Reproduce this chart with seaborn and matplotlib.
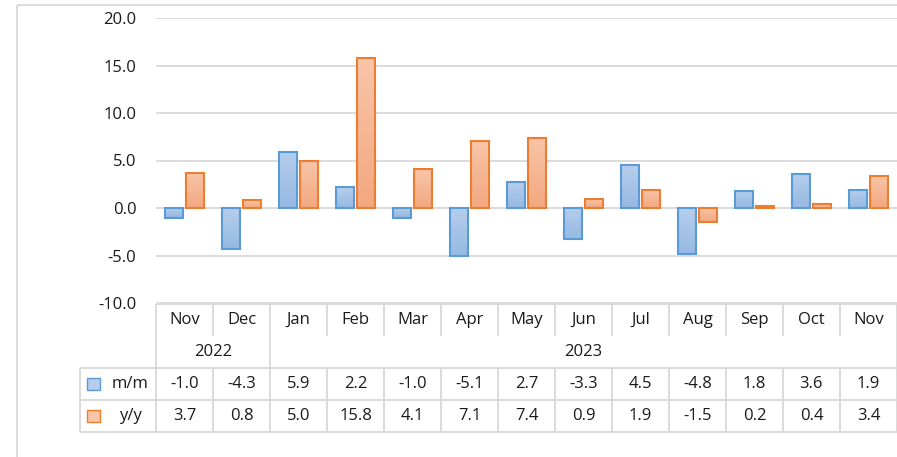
import numpy as np
import pandas as pd
import matplotlib
matplotlib.use("Agg")
import matplotlib.pyplot as plt
from matplotlib.colors import LinearSegmentedColormap
from matplotlib.patches import Rectangle
import seaborn as sns

months = ["Nov", "Dec", "Jan", "Feb", "Mar", "Apr", "May", "Jun", "Jul", "Aug", "Sep", "Oct", "Nov"]
years = ["2022", "2022", "2023", "2023", "2023", "2023", "2023", "2023", "2023", "2023", "2023", "2023", "2023"]
mm = [-1.0, -4.3, 5.9, 2.2, -1.0, -5.1, 2.7, -3.3, 4.5, -4.8, 1.8, 3.6, 1.9]
yy = [3.7, 0.8, 5.0, 15.8, 4.1, 7.1, 7.4, 0.9, 1.9, -1.5, 0.2, 0.4, 3.4]
series = ["m/m", "y/y"]

periods = [m + " " + y for m, y in zip(months, years)]
df = pd.DataFrame({
    "period": periods * 2,
    "series": ["m/m"] * len(mm) + ["y/y"] * len(yy),
    "value": mm + yy,
})

# colours: edge, gradient top, gradient bottom
edge_c = {"m/m": "#5B9BD5", "y/y": "#ED7D31"}
top_c = {"m/m": "#B6CEEB", "y/y": "#F8C5A9"}
bot_c = {"m/m": "#96B9E3", "y/y": "#F3A880"}
grid_c = "#D9D9D9"
txt_c = "#1A1A1A"

sns.set_style("white")
plt.rcParams["font.family"] = ["Open Sans", "DejaVu Sans"]
fsize = 12

W, H = 897, 457
fig = plt.figure(figsize=(W / 100, H / 100), dpi=100)

# pixel layout of plot area / table
x0, x1 = 156, 897
ytop, ybot = 18, 303
ax = fig.add_axes([x0 / W, (H - ybot) / H, (x1 - x0) / W, (ybot - ytop) / H])

sns.barplot(data=df, x="period", y="value", hue="series", order=periods,
            hue_order=series, width=0.77, gap=0.18, legend=False,
            palette=[top_c[s] for s in series], ax=ax, saturation=1)

# gradient fill for each bar
grad = np.linspace(0, 1, 64).reshape(-1, 1)
for cont, s in zip(ax.containers, series):
    cmap = LinearSegmentedColormap.from_list(s, [bot_c[s], top_c[s]])
    for p in cont.patches:
        x, y, w, h = p.get_x(), p.get_y(), p.get_width(), p.get_height()
        lo, hi = min(y, y + h), max(y, y + h)
        p.set_facecolor("none")
        p.set_edgecolor(edge_c[s])
        p.set_linewidth(1.5)
        p.set_zorder(3)
        im = ax.imshow(grad, extent=[x, x + w, lo, hi], origin="lower", cmap=cmap,
                       aspect="auto", zorder=2.5, interpolation="bilinear")
        im.set_clip_path(p)

ax.set_xlim(-0.5, len(months) - 0.5)
ax.set_ylim(-10, 20)
ax.set_yticks(np.arange(-10, 20.1, 5))
ax.set_yticklabels([f"{v:.1f}" for v in np.arange(-10, 20.1, 5)], fontsize=fsize, color=txt_c)
ax.set_xticks([])
ax.set_xlabel("")
ax.set_ylabel("")
ax.tick_params(axis="y", length=0, pad=14)
ax.yaxis.grid(True, color=grid_c, linewidth=1.3)
ax.set_axisbelow(True)
for sp in ax.spines.values():
    sp.set_visible(False)

# data table drawn in pixel coordinates
tab = fig.add_axes([0, 0, 1, 1], zorder=-1)
tab.set_xlim(0, W)
tab.set_ylim(H, 0)
tab.axis("off")
tab.patch.set_alpha(0)

colw = (x1 - x0) / len(months)
r0, r1, r2, r3, r4 = 304, 336, 368, 400, 432
lx = 80
lw = 1.3

def hline(y, xa, xb):
    tab.plot([xa, xb], [y, y], color=grid_c, lw=lw, solid_capstyle="butt")

def vline(x, ya, yb):
    tab.plot([x, x], [ya, yb], color=grid_c, lw=lw, solid_capstyle="butt")

# outer chart border
hline(5, 17, W)
vline(17, 5, H)

hline(r0, x0, x1)
hline(r2, lx, x1)
hline(r3, lx, x1)
hline(r4, lx, x1)
vline(lx, r2, r4)
for i in range(len(months) + 1):
    xe = x0 + i * colw
    vline(xe, r0, r1)
    vline(xe, r2, r4)

# year group separators
for i in range(len(years) + 1):
    if i == 0 or i == len(years) or years[i] != years[i - 1]:
        vline(x0 + i * colw, r1, r2)

for i, m in enumerate(months):
    cx = x0 + (i + 0.5) * colw
    tab.text(cx, (r0 + r1) / 2, m, ha="center", va="center", fontsize=fsize, color=txt_c)
    tab.text(cx, (r2 + r3) / 2, f"{mm[i]:.1f}", ha="center", va="center", fontsize=fsize, color=txt_c)
    tab.text(cx, (r3 + r4) / 2, f"{yy[i]:.1f}", ha="center", va="center", fontsize=fsize, color=txt_c)

# year labels centred on their group
start = 0
for i in range(1, len(years) + 1):
    if i == len(years) or years[i] != years[start]:
        cx = x0 + (start + i) / 2 * colw
        tab.text(cx, (r1 + r2) / 2, years[start], ha="center", va="center", fontsize=fsize, color=txt_c)
        start = i

# legend keys in the table
for s, (ya, yb) in zip(series, [(r2, r3), (r3, r4)]):
    yc = (ya + yb) / 2
    tab.add_patch(Rectangle((87, yc - 6), 13, 12, facecolor=top_c[s], edgecolor=edge_c[s], lw=1.0))
    tab.text(130, yc, s, ha="center", va="center", fontsize=fsize, color=txt_c)

fig.savefig("out.png", dpi=100)
